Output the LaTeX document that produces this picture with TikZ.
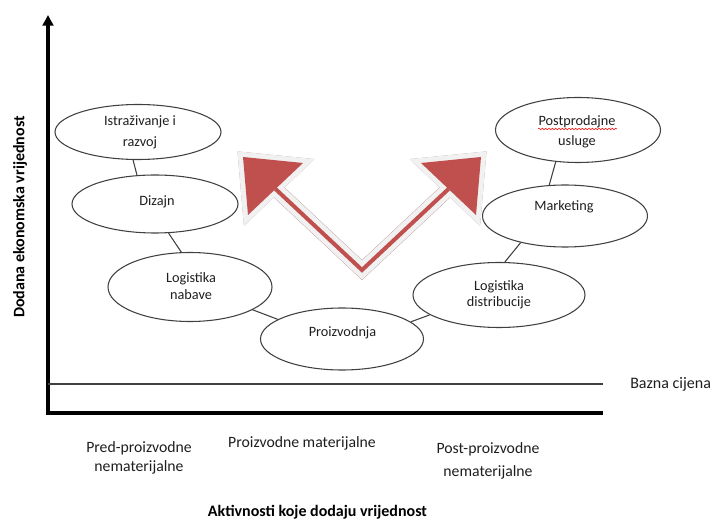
\documentclass[tikz,border=0pt]{standalone}
\usepackage{fontspec}
\setmainfont{Carlito}
\usetikzlibrary{shapes.geometric,arrows.meta,decorations.pathmorphing}
\definecolor{arrred}{RGB}{192,80,77}
\definecolor{arrwhite}{RGB}{241,241,241}
\definecolor{arrshadow}{RGB}{178,142,142}
\definecolor{ovalline}{RGB}{64,64,64}
\definecolor{txtcol}{RGB}{30,30,30}
\begin{document}
\begin{tikzpicture}[x=0.75pt,y=-0.75pt,
  oval/.style={ellipse,draw=ovalline,line width=0.8pt,inner sep=0pt},
  txt/.style={font=\fontsize{10.7}{14}\selectfont,align=center,inner sep=0pt,text=txtcol},
  link/.style={draw=ovalline,line width=0.8pt},
  axisline/.style={line width=2.4pt,black,line join=miter},
  baseline/.style={line width=0.8pt,ovalline},
  cat/.style={font=\fontsize{11.8}{14}\selectfont,align=center,inner sep=0pt,text=txtcol},
  title/.style={font=\fontsize{12}{14}\selectfont\bfseries,inner sep=0pt,text=black},
  shaftshadow/.style={line width=11pt,arrshadow,line join=miter},
  shaftwhite/.style={line width=10.5pt,arrwhite,line join=miter},
  shaftred/.style={line width=3pt,arrred,line join=miter},
  headshadow/.style={fill=arrshadow,draw=arrshadow,line width=7.5pt,line join=miter},
  headwhite/.style={fill=arrwhite,draw=arrwhite,line width=7.5pt,line join=miter},
  headred/.style={fill=arrred}
]
\useasboundingbox (0,0) rectangle (714,520);

% axes
\coordinate (orig) at (48,413);
\coordinate (ytop) at (48,15);
\coordinate (xend) at (603,413);
\coordinate (bl) at (48,384);
\coordinate (br) at (603,384);
\draw[axisline,-{Triangle[width=8pt,length=8pt]}] (xend) -- (orig) -- (ytop);
\draw[baseline] (bl) -- (br);

% big V arrow
\coordinate (t1) at (243,157);
\coordinate (a1) at (303,163);
\coordinate (b1) at (248,215);
\coordinate (m1) at (275.5,189);
\coordinate (t2) at (481,157);
\coordinate (a2) at (421,163);
\coordinate (b2) at (476,215);
\coordinate (m2) at (448.5,189);
\coordinate (vb) at (362,270);
\begin{scope}[yshift=-2.5pt]
  \draw[shaftshadow] (m1) -- (vb) -- (m2);
  \draw[headshadow] (t1) -- (a1) -- (b1) -- cycle;
  \draw[headshadow] (t2) -- (a2) -- (b2) -- cycle;
\end{scope}
\draw[shaftwhite] (m1) -- (vb) -- (m2);
\draw[headwhite] (t1) -- (a1) -- (b1) -- cycle;
\draw[headwhite] (t2) -- (a2) -- (b2) -- cycle;
\draw[shaftred] (m1) -- (vb) -- (m2);
\fill[headred] (t1) -- (a1) -- (b1) -- cycle;
\fill[headred] (t2) -- (a2) -- (b2) -- cycle;

% ovals
\node[oval,minimum width=124.5pt,minimum height=41.25pt] (ist) at (138,132) {};
\node[oval,minimum width=124.5pt,minimum height=43.5pt] (diz) at (155,204) {};
\node[oval,minimum width=123pt,minimum height=51.75pt] (lnab) at (190,287) {};
\node[oval,minimum width=122.25pt,minimum height=46.5pt] (pro) at (342,339) {};
\node[oval,minimum width=129pt,minimum height=48.75pt] (ldis) at (499,295) {};
\node[oval,minimum width=123.75pt,minimum height=46.5pt] (mkt) at (565,216) {};
\node[oval,minimum width=123.75pt,minimum height=48.75pt] (post) at (578,130) {};

% texts
\node[txt,font=\fontsize{10.7}{15.75}\selectfont] (istt) at (140,132.5) {Istraživanje i\\razvoj};
\node[txt] (dizt) at (157,202) {Dizajn};
\node[txt,font=\fontsize{10.7}{12.75}\selectfont] (lnabt) at (191,286.5) {Logistika\\nabave};
\node[txt] (prot) at (342.5,333) {Proizvodnja};
\node[txt,font=\fontsize{10.7}{12}\selectfont] (ldist) at (499,295) {Logistika\\distribucije};
\node[txt] (mktt) at (564,207) {Marketing};
\node[txt,font=\fontsize{10.7}{15}\selectfont] (postt) at (577,132) {Postprodajne\\usluge};
\draw[red,line width=0.4pt,decorate,decoration={snake,amplitude=0.6pt,segment length=2.5pt}] (538,129) -- (617,129);

% connectors
\draw[link] (ist.260) -- (diz.122);
\draw[link] (diz.295) -- (lnab.104);
\draw[link] (lnab.340) -- (pro.163.5);
\draw[link] (pro.14) -- (ldis.196.6);
\draw[link] (ldis.80) -- (mkt.211.7);
\draw[link] (mkt.117) -- (post.235.5);

% labels
\node[cat,anchor=west,font=\fontsize{12}{14}\selectfont] (bazna) at (630,384) {Bazna cijena};
\node[cat,font=\fontsize{11.8}{14.25}\selectfont] (pred) at (139,457.5) {Pred-proizvodne\\nematerijalne};
\node[cat] (mat) at (302,443) {Proizvodne materijalne};
\node[cat,font=\fontsize{11.8}{17.25}\selectfont] (postc) at (488,460.5) {Post-proizvodne\\nematerijalne};
\node[title] (xlab) at (317.5,512) {Aktivnosti koje dodaju vrijednost};
\node[title,rotate=90] (ylab) at (20,217) {Dodana ekonomska vrijednost};
\end{tikzpicture}
\end{document}
